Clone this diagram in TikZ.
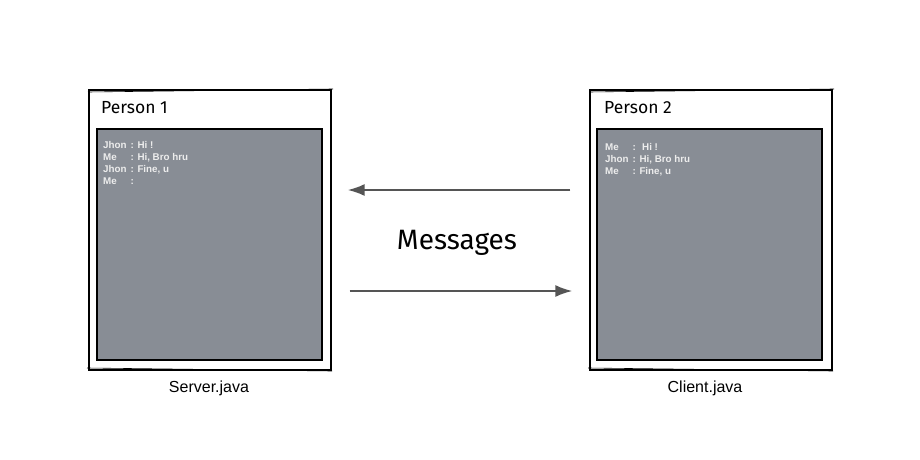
\documentclass[tikz,border=0pt]{standalone}
\usepackage{fontspec}
\setmainfont{Liberation Sans}
\newfontfamily\handfont{Fira Sans}
\usetikzlibrary{arrows.meta,positioning,calc}
\definecolor{screen}{HTML}{888D95}
\definecolor{arrowgray}{HTML}{555555}
\tikzset{
  frame/.style={draw=black,line width=1.2pt,fill=white,minimum width=242pt,minimum height=280pt,inner sep=0pt},
  screenbox/.style={draw=black,line width=1.2pt,fill=screen,minimum width=225pt,minimum height=231pt,inner sep=0pt},
  chat/.style={anchor=north west,text=white!93!black,font=\fontsize{9.8}{12}\selectfont\bfseries,align=left,inner sep=0pt},
  title/.style={anchor=west,font=\handfont\fontsize{17.5}{20}\selectfont,inner sep=0pt},
  caption/.style={font=\fontsize{16}{18}\selectfont,inner sep=0pt},
  msgarrow/.style={draw=arrowgray,line width=2.2pt,-{Latex[length=17pt,width=12pt]}}
}
\begin{document}
\begin{tikzpicture}[x=1pt,y=-1pt]
\useasboundingbox (0,0) rectangle (920,460);
% Person 1
\node[frame] (f1) at (210,230) {};
\draw[line width=0.6pt] (88,92) -- (333,89);
\draw[line width=0.6pt] (87,368) -- (332,371);
\node[screenbox] (s1) at (209.5,244.5) {};
\node[title] (t1) at (101,108) {Person 1};
\node[chat] (c1) at (103,140) {%
\begin{tabular}{@{}l@{\hspace{4pt}}l@{}}Jhon & : Hi !\\ Me & : Hi, Bro hru\\ Jhon & : Fine, u\\ Me & :\end{tabular}};
\node[caption] (l1) at (209,388) {Server.java};
% Person 2
\node[frame] (f2) at (711,230) {};
\draw[line width=0.6pt] (589,92) -- (834,89);
\draw[line width=0.6pt] (588,368) -- (833,371);
\node[screenbox] (s2) at (709.5,244.5) {};
\node[title] (t2) at (604,108) {Person 2};
\node[chat] (c2) at (605,142) {%
\begin{tabular}{@{}l@{\hspace{4pt}}l@{}}Me & : \ Hi !\\ Jhon & : Hi, Bro hru\\ Me & : Fine, u\end{tabular}};
\node[caption] (l2) at (705,388) {Client.java};
% Messages
\node[font=\handfont\fontsize{28}{30}\selectfont,inner sep=0pt] (msg) at (457,243) {Messages};
\coordinate (a1s) at ($(f2.west)+(-19,-40)$);
\coordinate (a1e) at ($(f1.east)+(16,-40)$);
\coordinate (a2s) at ($(f1.east)+(18,61)$);
\coordinate (a2e) at ($(f2.west)+(-17,61)$);
\draw[msgarrow] (a1s) -- (a1e);
\draw[msgarrow] (a2s) -- (a2e);
\end{tikzpicture}
\end{document}
